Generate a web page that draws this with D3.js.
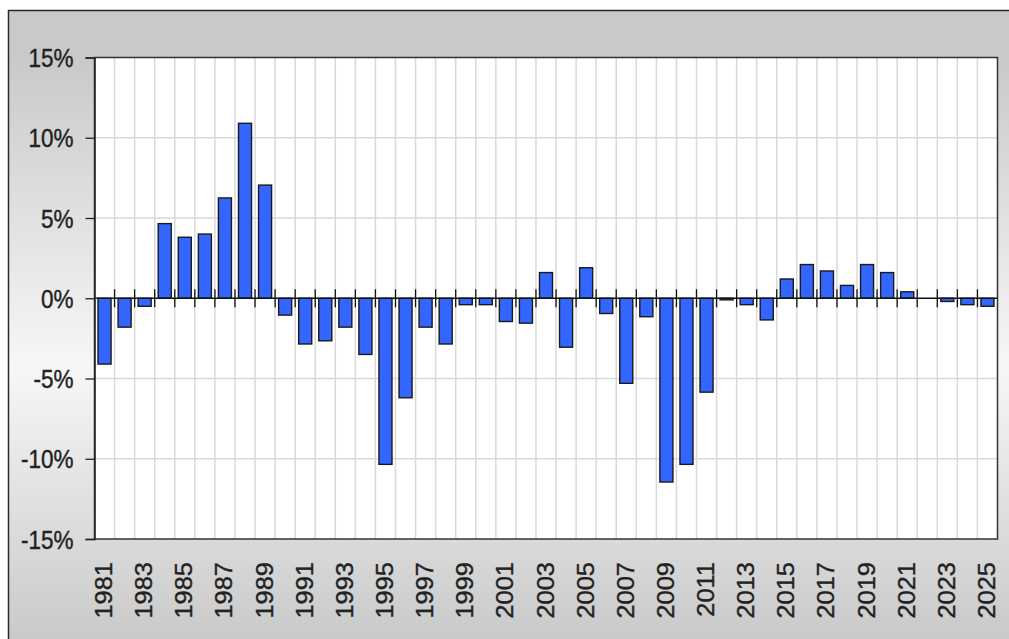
<!DOCTYPE html>
<html>
<head>
<meta charset="utf-8">
<script src="https://cdn.jsdelivr.net/npm/d3@7"></script>
<style>
  html, body { margin: 0; padding: 0; background: #ffffff; }
  svg { display: block; }
  text { font-family: "Liberation Sans", Arial, sans-serif; fill: #222; }
</style>
</head>
<body>
<svg id="chart" width="1009" height="639"></svg>
<script>
// ---- data ----
const years = d3.range(1981, 2026).map(String);
const values = [
  -4.1, -1.8, -0.5, 4.65, 3.8, 4.0, 6.25, 10.9, 7.05, -1.05,
  -2.85, -2.65, -1.8, -3.5, -10.35, -6.2, -1.8, -2.85, -0.4, -0.4,
  -1.45, -1.55, 1.6, -3.05, 1.9, -0.95, -5.3, -1.15, -11.45, -10.35,
  -5.85, -0.1, -0.4, -1.35, 1.2, 2.1, 1.7, 0.8, 2.1, 1.6,
  0.4, 0, -0.2, -0.4, -0.5
];
const yTicks = [-15, -10, -5, 0, 5, 10, 15];
const xLabels = years.filter((d, i) => i % 2 === 0);

// ---- layout ----
const svg = d3.select("#chart");
const W = 1009, H = 639;
const plot = { left: 94.5, right: 997.5, top: 57.5, bottom: 539 };

const defs = svg.append("defs");
const grad = defs.append("linearGradient").attr("id", "bg")
  .attr("x1", 0).attr("y1", 0).attr("x2", 0).attr("y2", 1);
grad.append("stop").attr("offset", "0").attr("stop-color", "#c9c9c9");
grad.append("stop").attr("offset", "0.07").attr("stop-color", "#c9c9c9");
grad.append("stop").attr("offset", "0.55").attr("stop-color", "#f7f7f7");
grad.append("stop").attr("offset", "1").attr("stop-color", "#c6c6c6");

// outer frame
svg.append("rect")
  .attr("x", 8.5).attr("y", 10.5).attr("width", W + 10).attr("height", H + 10)
  .attr("fill", "url(#bg)").attr("stroke", "#2a2a2a").attr("stroke-width", 1.5);

// scales
const x = d3.scaleBand().domain(years)
  .range([plot.left, plot.right]).paddingInner(0.35).paddingOuter(0.175);
const y = d3.scaleLinear().domain([-15, 15]).range([plot.bottom, plot.top]);
const step = x.step();
const boundary = d => x(d) - step * x.paddingInner() / 2;

// plot background
svg.append("rect")
  .attr("x", plot.left).attr("y", plot.top)
  .attr("width", plot.right - plot.left).attr("height", plot.bottom - plot.top)
  .attr("fill", "#ffffff");

// vertical gridlines
svg.append("g").selectAll("line").data(years.slice(1)).join("line")
  .attr("x1", d => boundary(d)).attr("x2", d => boundary(d))
  .attr("y1", plot.top).attr("y2", plot.bottom)
  .attr("stroke", "#d9d9d9").attr("stroke-width", 1.5);

// horizontal gridlines
svg.append("g").selectAll("line").data(yTicks.filter(t => t !== 0 && Math.abs(t) !== 15)).join("line")
  .attr("x1", plot.left).attr("x2", plot.right)
  .attr("y1", d => y(d)).attr("y2", d => y(d))
  .attr("stroke", "#d9d9d9").attr("stroke-width", 1.5);

// bars
svg.append("g").selectAll("rect").data(years.map((d, i) => ({ year: d, v: values[i] })).filter(d => d.v !== 0)).join("rect")
  .attr("x", d => x(d.year))
  .attr("width", x.bandwidth())
  .attr("y", d => y(Math.max(0, d.v)))
  .attr("height", d => Math.abs(y(d.v) - y(0)))
  .attr("fill", "#3366ff")
  .attr("stroke", "#1a1a1a").attr("stroke-width", 1.4);

// zero line with ticks at band boundaries
svg.append("line")
  .attr("x1", plot.left).attr("x2", plot.right)
  .attr("y1", y(0)).attr("y2", y(0))
  .attr("stroke", "#111").attr("stroke-width", 1.5);
svg.append("g").selectAll("line").data(years.slice(1)).join("line")
  .attr("x1", d => boundary(d)).attr("x2", d => boundary(d))
  .attr("y1", y(0) - 9).attr("y2", y(0) + 9)
  .attr("stroke", "#111").attr("stroke-width", 1.3);

// plot border
svg.append("rect")
  .attr("x", plot.left).attr("y", plot.top)
  .attr("width", plot.right - plot.left).attr("height", plot.bottom - plot.top)
  .attr("fill", "none").attr("stroke", "#333").attr("stroke-width", 1.5);

// y axis
const yAxis = d3.axisLeft(y).tickValues(yTicks).tickSize(9).tickPadding(12)
  .tickFormat(d => d + "%");
const gy = svg.append("g").attr("transform", `translate(${plot.left},0)`).call(yAxis);
gy.select(".domain").attr("stroke", "#222").attr("stroke-width", 1.5);
gy.selectAll(".tick line").attr("stroke", "#222").attr("stroke-width", 1.3);
gy.selectAll(".tick text")
  .attr("font-size", 22.5)
  .attr("font-family", "'Liberation Sans', Arial, sans-serif")
  .attr("fill", "#222")
  .attr("stroke", "#222").attr("stroke-width", 0.35)
  .attr("dy", null)
  .attr("x", null)
  .attr("transform", "translate(-21,0) scale(1,1.13) translate(0,8)");

// x labels
const xAxis = d3.axisBottom(x).tickValues(xLabels).tickSize(0).tickPadding(0);
const gx = svg.append("g").attr("transform", `translate(0,${plot.bottom})`).call(xAxis);
gx.select(".domain").remove();
gx.selectAll(".tick text")
  .attr("font-size", 22.5)
  .attr("font-family", "'Liberation Sans', Arial, sans-serif")
  .attr("fill", "#222")
  .attr("stroke", "#222").attr("stroke-width", 0.35)
  .attr("text-anchor", "end")
  .attr("x", 0).attr("y", 0).attr("dy", null)
  .attr("transform", "translate(7.5,23) rotate(-90) scale(1.13,1.07)");
</script>
</body>
</html>
